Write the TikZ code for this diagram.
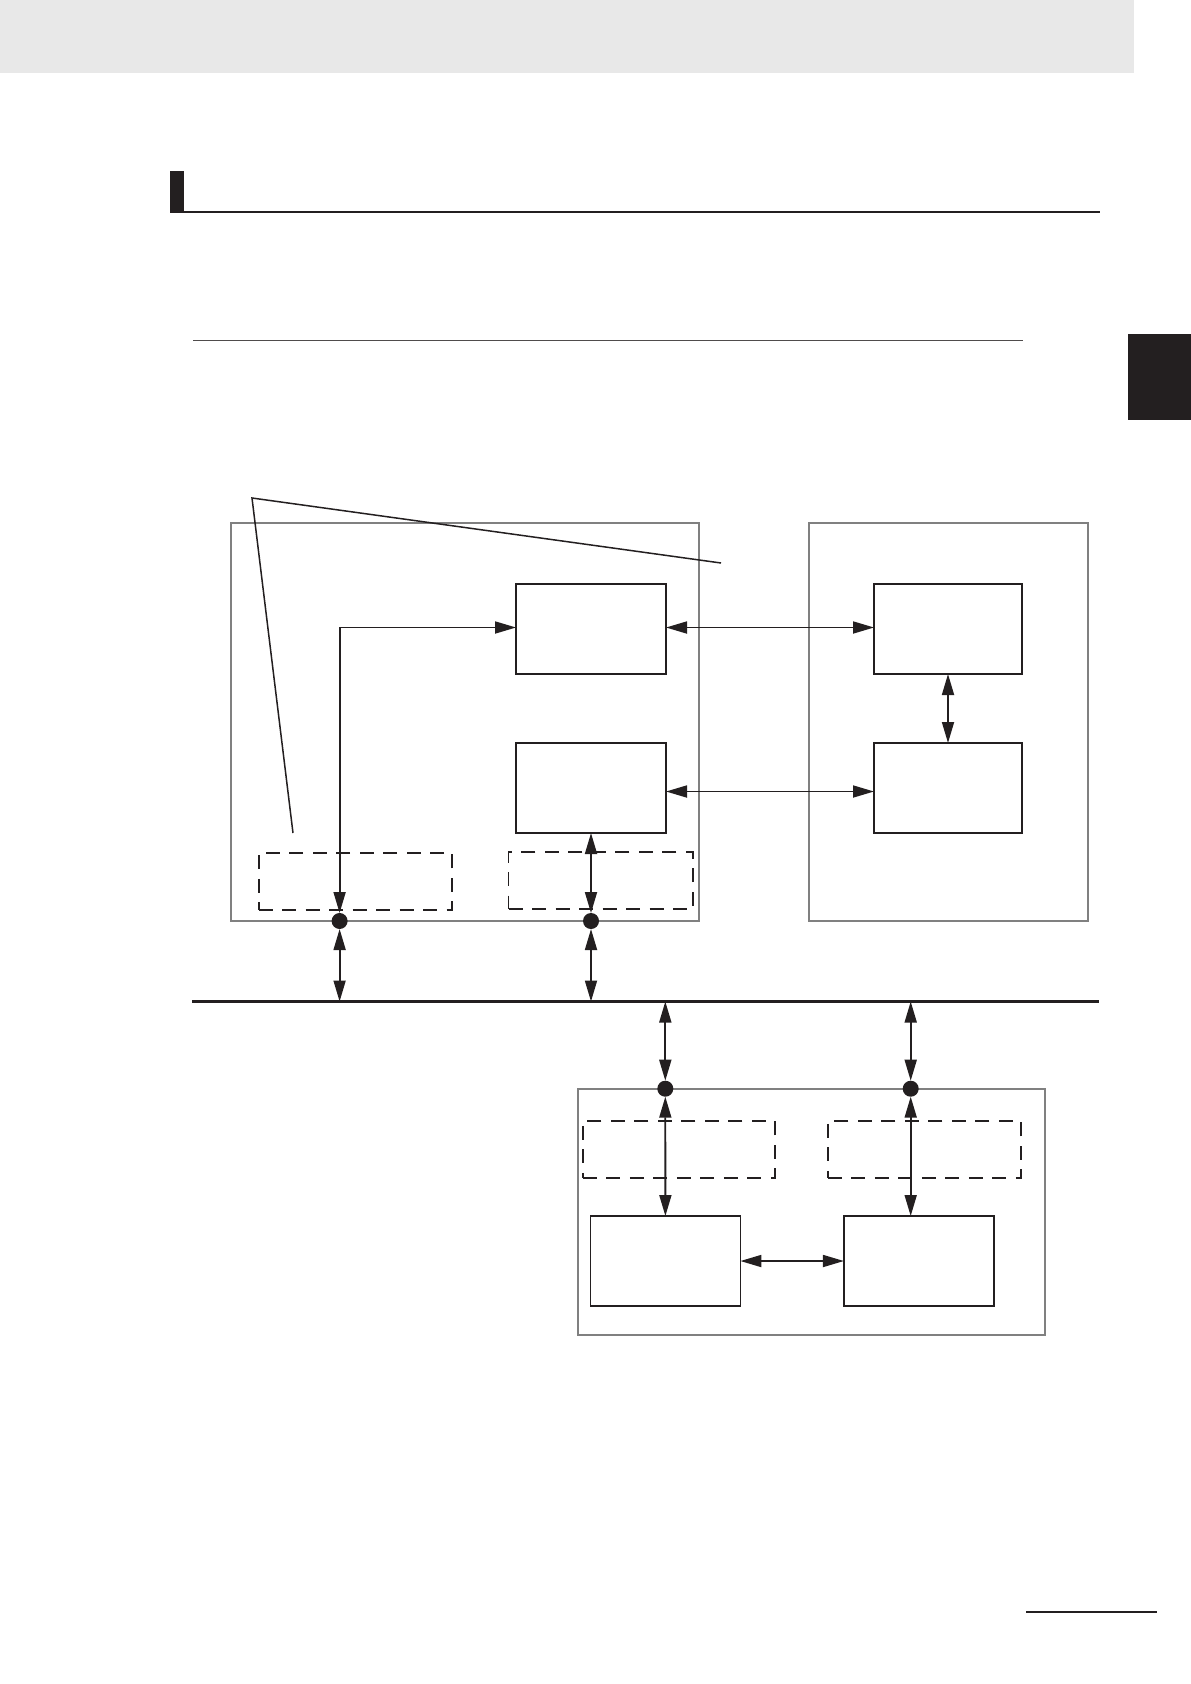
\documentclass[tikz,border=0pt]{standalone}
\usetikzlibrary{arrows.meta}
\definecolor{ink}{HTML}{231F20}
\definecolor{frame}{HTML}{808080}
\definecolor{hdr}{HTML}{E8E8E8}
\begin{document}
\begin{tikzpicture}[x=1pt,y=-1pt,
  outerbox/.style={draw=frame,line width=2pt,inner sep=0pt,outer sep=0pt},
  unitbox/.style={draw=ink,line width=1.7pt,inner sep=0pt,outer sep=0pt,minimum width=150pt,minimum height=90pt},
  dashbox/.style={draw=ink,line width=1.7pt,dash pattern=on 14pt off 9.5pt,inner sep=0pt,outer sep=0pt,minimum height=57pt},
  port/.style={circle,fill=ink,inner sep=0pt,minimum size=16pt,outer sep=0pt},
  link/.style={draw=ink,line width=1.8pt,{Triangle[length=21pt,width=12pt]}-{Triangle[length=21pt,width=12pt]}},
  pointer/.style={draw=ink,line width=1.5pt}]
\useasboundingbox (0,0) rectangle (1191,1684);
% page furniture
\fill[hdr] (0,0) rectangle (1134,73);
\fill[ink] (170,171) rectangle (184,213);
\draw[ink,line width=2.2pt] (170,212.3) -- (1100,212.3);
\draw[ink!80,line width=1.3pt] (193,340.3) -- (1023,340.3);
\fill[ink] (1128,334) rectangle (1191,420);
\draw[ink,line width=2.2pt] (1026,1611.7) -- (1157,1611.7);
% outer frames
\node[outerbox,minimum width=468pt,minimum height=398pt] (L) at (465,722) {};
\node[outerbox,minimum width=279pt,minimum height=398pt] (R) at (948.4,722) {};
\node[outerbox,minimum width=467pt,minimum height=246pt] (Bt) at (811.4,1211.5) {};
% inner boxes
\node[unitbox] (A) at (591,629) {};
\node[unitbox] (B) at (591,788) {};
\node[unitbox,minimum width=148pt] (C) at (948,629) {};
\node[unitbox,minimum width=148pt] (D) at (948,788) {};
\node[unitbox] (G) at (665.4,1261) {};
\node[unitbox] (H) at (918.9,1261) {};
% dashed boxes
\node[dashbox,minimum width=193.5pt] (E1) at (355.4,881.4) {};
\node[dashbox,minimum width=184.6pt] (E2) at (600.9,880.4) {};
\node[dashbox,minimum width=192.3pt] (E3) at (678.9,1149.5) {};
\node[dashbox,minimum width=193.3pt] (E4) at (924.4,1149.5) {};
% ports
\node[port] (p1) at (339.6,921) {};
\node[port] (p2) at (591,921) {};
\node[port] (p3) at (665.3,1088.7) {};
\node[port] (p4) at (910.7,1088.7) {};
% bus
\coordinate (busL) at (192,1001.5);
\coordinate (busR) at (1099,1001.5);
\draw[ink,line width=2.4pt] (busL) -- (busR);
% pointer lines
\coordinate (ap) at (252,498);
\coordinate (apL) at (293,833);
\coordinate (apR) at (721,563);
\draw[pointer] (apL) -- (ap) -- (apR);
% connectors
\draw[link] (p1) |- ([yshift=1.5pt]A.west);
\draw[link] ([yshift=1.5pt]A.east) -- ([yshift=1.5pt]C.west);
\draw[link] ([yshift=-3.5pt]B.east) -- ([yshift=-3.5pt]D.west);
\draw[link] (C.south) -- (D.north);
\draw[link] (p2) -- (B.south);
\draw[link] (p1) -- (p1 |- busL);
\draw[link] (p2) -- (p2 |- busL);
\draw[link] (p3 |- busL) -- (p3);
\draw[link] (p4 |- busL) -- (p4);
\draw[link] (p3) -- (G.north);
\draw[link] (p4) -- (p4 |- H.north);
\draw[link] (G.east) -- (H.west);
\end{tikzpicture}
\end{document}
